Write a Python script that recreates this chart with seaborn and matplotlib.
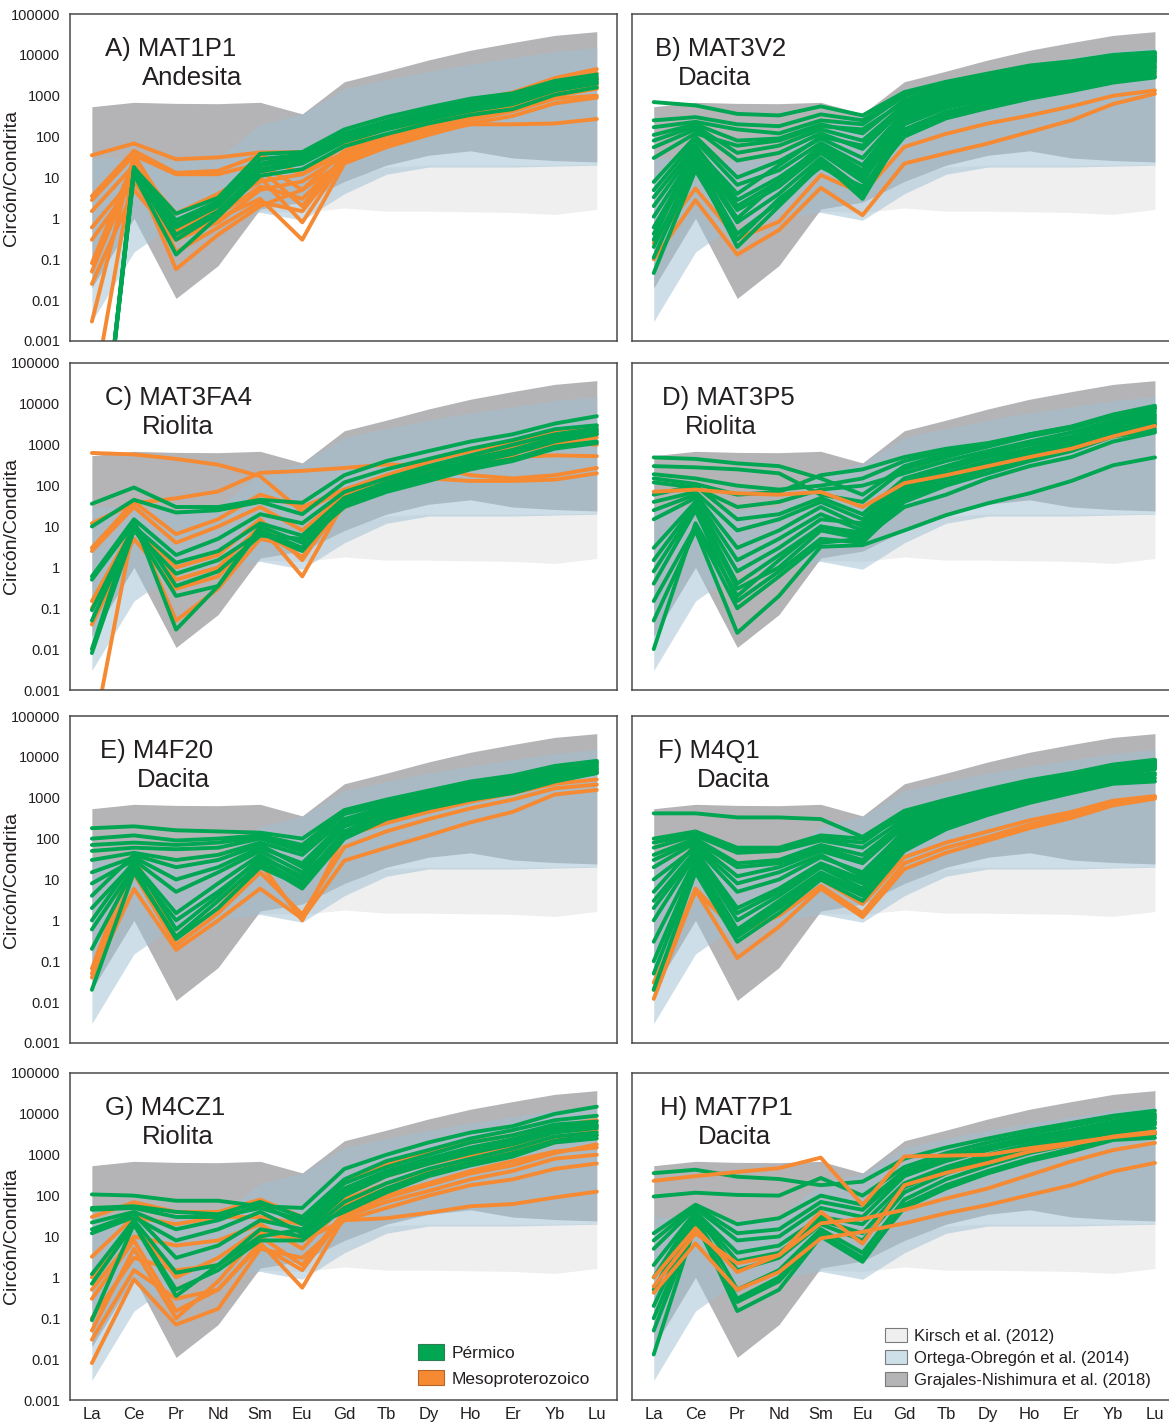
import matplotlib
matplotlib.use("Agg")
import matplotlib.pyplot as plt
from matplotlib.patches import Patch
from matplotlib.ticker import NullLocator
import pandas as pd
import seaborn as sns

# ---------------------------------------------------------------- data
elements = ["La", "Ce", "Pr", "Nd", "Sm", "Eu", "Gd", "Tb", "Dy", "Ho", "Er", "Yb", "Lu"]
ytick_values = [1e-3, 1e-2, 1e-1, 1, 10, 100, 1000, 10000, 100000]
ytick_labels = ["0.001", "0.01", "0.1", "1", "10", "100", "1000", "10000", "100000"]

# reference fields (chondrite-normalised zircon)
kirsch_low = [0.6, 1.0, 0.5, 0.8, 1.5, 1.4, 1.8, 1.5, 1.5, 1.45, 1.4, 1.25, 1.65]
kirsch_high = [4, 6, 4, 5, 8, 6, 10, 18, 20, 20, 20, 20, 21]
ortega_low = [0.003, 0.15, 0.8, 1.0, 1.4, 0.9, 4, 12, 18, 18, 18, 19, 20]
ortega_high = [30, 30, 25, 30, 200, 350, 1500, 2500, 4000, 6000, 8500, 12000, 15000]
grajales_low = [0.02, 1.0, 0.011, 0.07, 1.7, 2.5, 8, 20, 35, 45, 30, 26, 24]
grajales_high = [540, 690, 650, 640, 690, 360, 2200, 4000, 7500, 13000, 20000, 30000, 37000]

# A) MAT1P1
permico_A = [
    [1e-8, 17, 1.3, 3.2, 38, 42, 150, 300, 520, 850, 1150, 2300, 3300],
    [1e-8, 15, 0.9, 2.6, 28, 36, 120, 240, 430, 720, 980, 1950, 2900],
    [1e-8, 13, 0.6, 2.0, 20, 30, 95, 190, 340, 570, 820, 1650, 2400],
    [1e-8, 16, 0.4, 1.5, 14, 22, 75, 150, 260, 430, 620, 1350, 2000],
    [1e-8, 12, 0.13, 1.1, 11, 16, 58, 115, 210, 340, 470, 1050, 1600],
    [1e-8, 18, 0.7, 2.3, 22, 32, 105, 210, 390, 640, 870, 1750, 2600],
    [1e-8, 14, 0.3, 1.3, 16, 25, 85, 170, 300, 500, 720, 1500, 2200],
]
meso_A = [
    [35, 68, 28, 31, 41, 42, 90, 200, 400, 750, 1200, 2700, 4500],
    [3.5, 45, 13, 14.6, 35, 12, 60, 160, 330, 650, 1000, 2200, 3600],
    [2.8, 35, 12, 12, 22, 5, 45, 110, 240, 480, 750, 1600, 2600],
    [1.5, 20, 1.3, 4, 16, 2, 35, 85, 170, 360, 620, 1250, 1900],
    [0.6, 10, 0.5, 1.6, 10, 0.8, 28, 65, 130, 260, 420, 850, 1000],
    [0.3, 8, 0.3, 1.0, 3, 0.3, 22, 55, 110, 210, 320, 650, 900],
    [0.08, 25, 0.15, 0.6, 2.5, 1.5, 30, 65, 120, 200, 200, 210, 270],
    [0.05, 15, 0.057, 0.4, 2, 5, 25, 70, 150, 300, 500, 1000, 1500],
    [0.025, 5, 0.3, 0.8, 5, 8, 35, 90, 180, 350, 550, 1100, 1700],
    [0.003, 35, 0.8, 2, 8, 12, 40, 100, 200, 400, 650, 1300, 2000],
    [3e-5, 20, 0.4, 1.2, 6, 3, 30, 70, 150, 300, 480, 1000, 1500],
]

# B) MAT3V2
permico_B = [
    [700, 580, 360, 330, 550, 330, 1230, 2200, 3500, 5500, 7000, 10000, 11700],
    [170, 230, 150, 120, 250, 200, 1000, 1900, 3000, 4800, 6300, 9000, 10500],
    [110, 200, 80, 90, 200, 120, 800, 1600, 2600, 4200, 5500, 8000, 9500],
    [80, 180, 40, 60, 150, 80, 600, 1300, 2200, 3500, 4800, 7000, 8500],
    [55, 150, 26, 40, 120, 50, 500, 1100, 1900, 3000, 4200, 6200, 7500],
    [7.8, 100, 10, 25, 90, 30, 400, 900, 1600, 2600, 3600, 5500, 6800],
    [4.9, 80, 6.6, 15, 70, 20, 350, 800, 1400, 2300, 3200, 5000, 6000],
    [3.3, 60, 2.8, 10, 50, 12, 300, 700, 1200, 2000, 2800, 4400, 5300],
    [1.1, 40, 1.6, 6, 40, 8, 250, 600, 1000, 1700, 2400, 3800, 4600],
    [0.42, 30, 0.8, 4, 30, 5, 200, 500, 850, 1400, 2000, 3300, 4000],
    [0.2, 25, 0.42, 2.5, 25, 3, 150, 400, 700, 1200, 1700, 2800, 3500],
    [0.11, 20, 0.2, 2, 20, 4, 120, 330, 600, 1000, 1500, 2400, 3000],
    [0.046, 15, 0.3, 3, 18, 6, 100, 280, 500, 850, 1300, 2100, 2800],
    [0.3, 60, 2, 8, 60, 15, 450, 1000, 1700, 2700, 3700, 5600, 7000],
    [250, 300, 200, 180, 350, 250, 1100, 2000, 3200, 5000, 6600, 9500, 11000],
    [30, 120, 60, 80, 180, 150, 700, 1400, 2400, 3800, 5200, 7500, 9000],
    [2, 50, 4, 20, 100, 60, 550, 1200, 2000, 3200, 4500, 6600, 8000],
    [0.6, 35, 1, 8, 45, 10, 280, 650, 1100, 1850, 2600, 4100, 5000],
]
meso_B = [
    [0.25, 5.4, 0.32, 0.83, 11.5, 4.1, 56, 117, 210, 330, 550, 1000, 1350],
    [0.1, 2.8, 0.13, 0.52, 5.6, 1.2, 22, 39, 68, 130, 250, 630, 1120],
]

# C) MAT3FA4
permico_C = [
    [36, 90, 30, 30, 45, 38, 180, 400, 700, 1200, 1800, 3300, 5000],
    [10, 45, 22, 25, 40, 20, 120, 250, 450, 800, 1300, 2400, 3000],
    [0.6, 15, 2, 5, 20, 12, 70, 150, 300, 550, 1000, 1800, 2500],
    [0.09, 10, 1.3, 2.5, 12, 6, 50, 120, 250, 450, 750, 1500, 2200],
    [0.008, 8, 0.7, 1.5, 7, 2.5, 40, 90, 180, 350, 600, 1200, 1800],
    [0.5, 12, 0.35, 0.8, 6, 5, 35, 80, 150, 300, 450, 900, 1200],
    [0.05, 9, 0.2, 0.35, 10, 4, 30, 70, 130, 250, 400, 800, 1100],
    [0.01, 14, 0.03, 0.35, 8, 3, 45, 100, 200, 380, 650, 1300, 2000],
]
meso_C = [
    [630, 580, 450, 325, 170, 23, 80, 180, 380, 700, 1100, 2000, 2900],
    [12, 37, 49, 72, 205, 230, 270, 330, 300, 180, 150, 180, 270],
    [3, 40, 6.5, 15, 60, 30, 80, 120, 150, 130, 130, 140, 200],
    [2.5, 30, 4, 10, 30, 8, 60, 120, 220, 350, 500, 550, 525],
    [0.15, 10, 1, 2, 15, 1.5, 50, 130, 280, 550, 900, 1700, 2300],
    [0.1, 8, 0.5, 1, 10, 0.6, 40, 110, 250, 500, 850, 1500, 1800],
    [0.04, 5, 0.3, 0.6, 8, 1.8, 35, 100, 230, 450, 750, 1200, 1000],
    [5e-5, 12, 0.05, 0.3, 5, 3, 30, 80, 180, 350, 600, 1100, 1500],
]

# D) MAT3P5
permico_D = [
    [490, 450, 350, 300, 150, 60, 300, 600, 1000, 1800, 2800, 5500, 9000],
    [300, 280, 250, 200, 60, 40, 250, 500, 900, 1600, 2500, 5000, 8000],
    [190, 150, 100, 80, 100, 150, 400, 700, 1000, 1700, 2600, 5000, 7500],
    [150, 110, 60, 70, 180, 250, 500, 800, 1100, 1800, 2700, 5200, 8000],
    [120, 90, 30, 40, 80, 100, 200, 400, 700, 1200, 2000, 4000, 6500],
    [60, 100, 15, 20, 50, 20, 150, 300, 600, 1000, 1600, 3500, 5500],
    [40, 70, 8, 15, 40, 15, 120, 250, 500, 800, 1400, 3000, 5000],
    [25, 60, 3, 8, 30, 10, 100, 200, 400, 700, 1200, 2600, 4500],
    [15, 50, 1.5, 5, 20, 8, 80, 180, 350, 600, 1000, 2200, 4000],
    [3, 40, 0.8, 3, 15, 12, 90, 200, 380, 650, 1100, 2400, 3500],
    [1.5, 35, 0.4, 2, 10, 6, 60, 150, 300, 500, 900, 2000, 3000],
    [0.8, 30, 0.3, 1, 8, 5, 50, 120, 250, 450, 800, 1800, 2500],
    [0.4, 25, 0.15, 0.8, 5, 4, 40, 100, 200, 400, 700, 1600, 2200],
    [0.15, 10, 0.1, 0.6, 4, 5, 30, 60, 150, 300, 500, 1200, 2000],
    [0.05, 8, 0.025, 0.2, 3.2, 3.5, 8, 19, 37, 65, 130, 315, 490],
    [0.01, 12, 0.2, 1.5, 10, 7, 70, 160, 320, 550, 950, 2100, 3200],
]
meso_D = [
    [71, 80, 65, 60, 70, 30, 115, 180, 300, 500, 800, 1600, 2900],
]

# E) M4F20
permico_E = [
    [180, 200, 160, 150, 140, 100, 500, 900, 1500, 2500, 3500, 6000, 8000],
    [100, 120, 90, 100, 120, 70, 450, 800, 1300, 2200, 3200, 5500, 7500],
    [50, 60, 55, 60, 100, 50, 400, 700, 1200, 2000, 3000, 5000, 7000],
    [30, 45, 30, 40, 80, 40, 300, 600, 1000, 1700, 2600, 4500, 6500],
    [15, 35, 10, 20, 60, 25, 250, 500, 900, 1500, 2300, 4000, 6000],
    [8, 30, 5, 15, 50, 15, 200, 450, 800, 1300, 2000, 3600, 5500],
    [2, 25, 1.5, 8, 40, 10, 150, 400, 700, 1100, 1700, 3200, 5000],
    [0.6, 20, 1, 5, 30, 8, 130, 350, 600, 1000, 1500, 2800, 4500],
    [0.02, 15, 0.4, 3, 25, 6, 100, 300, 550, 900, 1300, 2500, 4000],
    [4, 40, 20, 30, 70, 20, 200, 420, 750, 1200, 1900, 3400, 5000],
    [1, 28, 0.6, 4, 35, 12, 120, 320, 600, 950, 1450, 2700, 4200],
    [70, 80, 70, 80, 110, 60, 420, 750, 1250, 2100, 3100, 5200, 7200],
    [0.2, 18, 0.35, 2, 20, 7, 110, 320, 570, 950, 1400, 2600, 4100],
]
meso_E = [
    [0.066, 36, 0.35, 2, 25, 1.0, 117, 240, 450, 800, 1300, 2200, 2800],
    [0.05, 14, 0.25, 1.5, 15, 1.4, 62, 150, 300, 550, 900, 1700, 2100],
    [0.04, 5.9, 0.19, 1, 6, 1.1, 29, 60, 120, 250, 450, 1200, 1550],
]

# F) M4Q1
permico_F = [
    [415, 415, 330, 330, 300, 110, 480, 900, 1600, 2700, 4000, 6500, 8500],
    [100, 150, 60, 60, 120, 100, 350, 800, 1400, 2400, 3600, 6000, 8000],
    [60, 120, 45, 50, 90, 60, 300, 700, 1200, 2100, 3200, 5500, 7500],
    [40, 100, 25, 30, 70, 40, 250, 600, 1100, 1900, 3000, 5000, 7000],
    [20, 80, 12, 20, 50, 25, 200, 500, 950, 1700, 2700, 4600, 6500],
    [10, 60, 5, 10, 35, 15, 150, 420, 800, 1500, 2400, 4200, 6000],
    [3, 50, 2, 6, 25, 10, 120, 350, 700, 1300, 2100, 3800, 5500],
    [1, 40, 1, 4, 20, 6, 100, 300, 600, 1100, 1800, 3500, 5000],
    [0.3, 30, 0.6, 3, 15, 5, 80, 250, 500, 950, 1600, 3000, 4000],
    [0.05, 20, 0.4, 2, 12, 4, 60, 200, 420, 850, 1400, 2500, 3000],
    [0.02, 15, 0.3, 1.5, 10, 3, 50, 170, 380, 750, 1300, 2200, 2500],
    [5, 70, 8, 15, 40, 12, 160, 450, 850, 1600, 2600, 4400, 6200],
    [80, 130, 50, 55, 100, 80, 420, 850, 1500, 2550, 3800, 6200, 8200],
    [30, 90, 20, 25, 60, 30, 220, 550, 1000, 1800, 2850, 4800, 6800],
    [2, 45, 1.5, 5, 22, 8, 110, 320, 650, 1200, 1950, 3600, 5200],
    [0.1, 25, 0.5, 2.5, 13, 4.5, 70, 220, 460, 900, 1500, 2800, 3600],
]
meso_F = [
    [0.012, 5.5, 0.12, 0.7, 6, 1.2, 18, 45, 90, 180, 320, 650, 950],
    [0.02, 6, 0.5, 1.3, 7, 1.5, 25, 60, 110, 220, 380, 750, 1050],
    [0.03, 5, 0.6, 2, 10, 2.5, 35, 80, 150, 280, 450, 850, 1100],
]

# G) M4CZ1
permico_G = [
    [107, 100, 75, 75, 55, 50, 450, 1000, 2000, 3500, 5000, 10000, 15000],
    [50, 55, 40, 35, 70, 30, 250, 700, 1300, 2500, 4000, 7000, 9000],
    [45, 50, 30, 30, 50, 25, 200, 500, 1000, 2000, 3000, 5500, 6500],
    [22, 40, 15, 25, 60, 20, 150, 400, 800, 1500, 2400, 4500, 5500],
    [12, 30, 8, 15, 40, 12, 100, 300, 600, 1100, 1800, 3500, 4500],
    [1.2, 25, 1.3, 2, 15, 10, 70, 200, 450, 800, 1400, 2800, 3500],
    [0.7, 20, 0.5, 1.5, 8, 8, 50, 150, 350, 650, 1100, 2200, 3000],
    [0.09, 20, 0.35, 2, 10, 15, 40, 120, 300, 550, 900, 2000, 2500],
    [15, 35, 3, 6, 25, 15, 120, 350, 700, 1300, 2100, 4000, 5000],
]
meso_G = [
    [30, 69, 40, 40, 80, 30, 200, 600, 1100, 2000, 3000, 5000, 7000],
    [3.2, 30, 20, 30, 30, 20, 100, 300, 600, 1000, 1700, 3500, 5000],
    [0.5, 10, 6, 8, 20, 5, 60, 150, 300, 600, 1000, 2000, 3000],
    [0.1, 3, 1.5, 2, 10, 2, 40, 100, 200, 400, 700, 1200, 1500],
    [0.03, 1.5, 0.3, 0.5, 7, 0.56, 30, 70, 130, 250, 400, 800, 1000],
    [0.008, 0.9, 0.07, 0.17, 5, 3, 25, 50, 100, 180, 250, 450, 610],
    [0.05, 5, 0.1, 0.8, 12, 8, 25, 28, 38, 55, 62, 90, 125],
    [1, 20, 1, 3, 15, 10, 80, 200, 400, 800, 1300, 2500, 4000],
    [0.3, 8, 0.15, 0.5, 6, 1.5, 35, 90, 180, 350, 550, 1100, 1800],
]

# H) MAT7P1
permico_H = [
    [355, 430, 290, 255, 180, 220, 800, 1500, 2500, 4000, 6000, 9000, 12000],
    [95, 118, 104, 100, 270, 100, 500, 1100, 2000, 3300, 5000, 8000, 10000],
    [12, 60, 20, 28, 100, 60, 400, 900, 1600, 2700, 4000, 6500, 9000],
    [5, 50, 8, 10, 50, 30, 300, 700, 1300, 2200, 3300, 5500, 7500],
    [2, 40, 4, 6, 30, 20, 200, 500, 1000, 1800, 2800, 4800, 6500],
    [0.5, 35, 1.5, 3, 20, 8, 120, 350, 750, 1400, 2300, 4000, 5500],
    [0.2, 30, 0.5, 1.5, 15, 4, 80, 250, 550, 1100, 1800, 3400, 4500],
    [0.1, 25, 0.15, 0.5, 10, 2.4, 60, 180, 400, 800, 1400, 2800, 3500],
    [0.013, 20, 0.3, 1, 12, 3, 50, 150, 350, 700, 1200, 2300, 2600],
    [8, 55, 12, 15, 70, 45, 350, 800, 1450, 2450, 3650, 6000, 8200],
    [1, 38, 2.5, 4, 25, 12, 160, 420, 880, 1600, 2550, 4400, 6000],
    [0.05, 22, 0.25, 0.8, 11, 2.8, 55, 165, 380, 750, 1300, 2600, 3200],
]
meso_H = [
    [230, 300, 380, 470, 850, 59, 910, 950, 1000, 1450, 1950, 2700, 3400],
    [1.0, 16, 1.35, 3.5, 40, 6.7, 180, 360, 630, 1200, 1800, 2800, 3700],
    [0.42, 6.8, 0.5, 1.35, 9, 13, 21, 37, 59, 104, 180, 390, 630],
    [0.6, 12, 2.2, 3.5, 21, 27, 45, 85, 150, 320, 690, 1300, 1950],
]

panel_titles = ["A) MAT1P1", "B) MAT3V2", "C) MAT3FA4", "D) MAT3P5",
                "E) M4F20", "F) M4Q1", "G) M4CZ1", "H) MAT7P1"]
panel_rocks = ["Andesita", "Dacita", "Riolita", "Riolita",
               "Dacita", "Dacita", "Riolita", "Dacita"]
permico_sets = [permico_A, permico_B, permico_C, permico_D,
                permico_E, permico_F, permico_G, permico_H]
meso_sets = [meso_A, meso_B, meso_C, meso_D, meso_E, meso_F, meso_G, meso_H]

# ---------------------------------------------------------------- style
GREEN = "#00a651"
ORANGE = "#f58a33"
TEXT = "#231f20"
SPINE = "#4a4a4a"
C_KIRSCH = "#efefef"
C_GRAJALES = "#b4b4b7"
C_ORTEGA = "#9fc0d3"
C_ORTEGA_PATCH = "#cddfe9"

sns.set_theme(style="white")
plt.rcParams["font.family"] = ["Liberation Sans", "DejaVu Sans"]
NARROW = ["Liberation Sans Narrow", "Liberation Sans", "DejaVu Sans"]

W, H = 1169, 1427
fig = plt.figure(figsize=(W / 100, H / 100), dpi=100)
col_left = [70, 632]
col_width = [547, 543]
row_top = [14, 363, 716, 1073]
row_h = 327

title_x = [(0.064, 0.132), (0.042, 0.085), (0.064, 0.132), (0.055, 0.098),
           (0.055, 0.123), (0.048, 0.12), (0.064, 0.132), (0.052, 0.122)]
orange_on_top = [False, False, False, True, False, False, False, True]

x = list(range(len(elements)))

for i in range(8):
    r, c = divmod(i, 2)
    ax = fig.add_axes([col_left[c] / W, 1 - (row_top[r] + row_h) / H,
                       col_width[c] / W, row_h / H])
    ax.set_yscale("log")

    ax.fill_between(x, kirsch_low, kirsch_high, color=C_KIRSCH, lw=0, zorder=1)
    ax.fill_between(x, grajales_low, grajales_high, color=C_GRAJALES, lw=0, zorder=1.1)
    ax.fill_between(x, ortega_low, ortega_high, color=C_ORTEGA, alpha=0.52, lw=0, zorder=1.2)

    records = []
    for k, vals in enumerate(permico_sets[i]):
        for j, v in enumerate(vals):
            records.append(("Pérmico", f"p{k}", j, v))
    for k, vals in enumerate(meso_sets[i]):
        for j, v in enumerate(vals):
            records.append(("Mesoproterozoico", f"m{k}", j, v))
    df = pd.DataFrame(records, columns=["grupo", "muestra", "pos", "valor"])

    order = ["Pérmico", "Mesoproterozoico"] if orange_on_top[i] else ["Mesoproterozoico", "Pérmico"]
    sns.lineplot(data=df, x="pos", y="valor", hue="grupo", units="muestra",
                 estimator=None, sort=False, hue_order=order,
                 palette={"Pérmico": GREEN, "Mesoproterozoico": ORANGE},
                 linewidth=2.8, legend=False, ax=ax, zorder=2)

    ax.set_xlim(-0.52, 12.48)
    ax.set_ylim(1e-3, 1e5)
    ax.set_xticks(x)
    ax.set_yticks(ytick_values)
    ax.yaxis.set_minor_locator(NullLocator())
    ax.set_xlabel("")
    ax.set_ylabel("")

    ax.tick_params(axis="both", which="major", direction="in", color=SPINE,
                   width=1, labelcolor=TEXT)
    ax.tick_params(axis="y", length=6, pad=7, labelsize=10.5)
    ax.tick_params(axis="x", length=5, pad=5, labelsize=12)

    if c == 0:
        ax.set_yticklabels(ytick_labels, fontfamily=NARROW)
        ax.set_ylabel("Circón/Condrita", fontsize=14, color=TEXT)
        ax.yaxis.set_label_coords(-0.092, 0.5)
    else:
        ax.set_yticklabels([])
    if r == 3:
        ax.set_xticklabels(elements, fontfamily=NARROW)
    else:
        ax.set_xticklabels([])

    for sp in ax.spines.values():
        sp.set_color(SPINE)
        sp.set_linewidth(1.1)
        sp.set_visible(True)

    tx1, tx2 = title_x[i]
    ax.text(tx1, 0.872, panel_titles[i], transform=ax.transAxes,
            fontsize=18.5, color=TEXT, zorder=5)
    ax.text(tx2, 0.782, panel_rocks[i], transform=ax.transAxes,
            fontsize=18.5, color=TEXT, zorder=5)

    if i == 6:
        handles = [Patch(facecolor=GREEN, edgecolor="#2f7d52", lw=0.8, label="Pérmico"),
                   Patch(facecolor=ORANGE, edgecolor="#b5652a", lw=0.8, label="Mesoproterozoico")]
        ax.legend(handles=handles, loc="upper left", bbox_to_anchor=(0.636, 0.17),
                  frameon=False, fontsize=12.5, handlelength=1.5, handleheight=1.0,
                  handletextpad=0.45, labelspacing=0.5, borderpad=0, borderaxespad=0,
                  labelcolor=TEXT)
    if i == 7:
        handles = [Patch(facecolor=C_KIRSCH, edgecolor="#7a7a7a", lw=0.8, label="Kirsch et al. (2012)"),
                   Patch(facecolor=C_ORTEGA_PATCH, edgecolor="#7a7a7a", lw=0.8, label="Ortega-Obregón et al. (2014)"),
                   Patch(facecolor=C_GRAJALES, edgecolor="#7a7a7a", lw=0.8, label="Grajales-Nishimura et al. (2018)")]
        ax.legend(handles=handles, loc="upper left", bbox_to_anchor=(0.466, 0.22),
                  frameon=False, fontsize=12, handlelength=1.3, handleheight=0.95,
                  handletextpad=0.45, labelspacing=0.36, borderpad=0, borderaxespad=0,
                  labelcolor=TEXT)

fig.savefig("out.png", dpi=100, facecolor="white")
